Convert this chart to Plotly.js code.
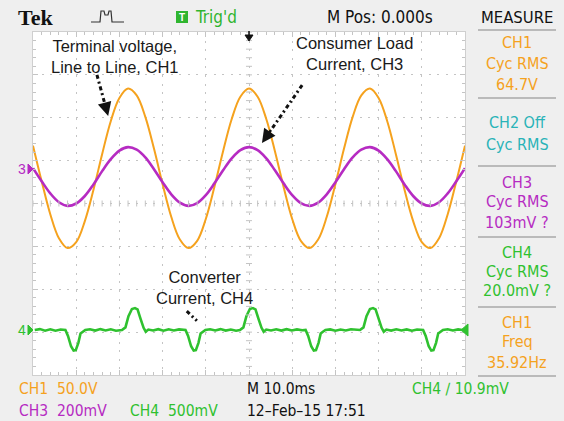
<!DOCTYPE html>
<html>
<head>
<meta charset="utf-8">
<script src="https://cdn.plot.ly/plotly-3.0.1.min.js"></script>
<style>html,body{margin:0;padding:0;background:#efefef;}#chart{width:564px;height:421px;}</style>
</head>
<body>
<div id="chart"></div>
<script>
// ---- data (time in ms, 10 ms/div, trigger at 0) ----
const timeMs = [-50,-48,-46,-44,-42,-40,-38,-36,-34,-32,-30,-28,-26,-24,-22,-20,-18,-16,-14,-12,-10,-8,-6,-4,-2,0,2,4,6,8,10,12,14,16,18,20,22,24,26,28,30,32,34,36,38,40,42,44,46,48,50];
const ch1Volts = [26.5,-15,-53.5,-81.5,-93,-86,-61.5,-25,16.5,55,82,93,85,60,23,-18.5,-56.5,-83,-93,-84.5,-59,-21.5,20,57.5,83.5,93,83.5,57.5,20,-21.5,-59,-84.5,-93,-83,-56.5,-18.5,23,60,85,93,82,55,16.5,-25,-61.5,-86,-93,-81.5,-53.5,-15,26.5];
const ch3mV = [1,-60,-117,-158,-175,-164,-129,-75,-13,43,83,99,87,51,-4,-65,-121,-160,-175,-162,-125,-70,-9,47,85,99,85,47,-9,-70,-125,-162,-175,-160,-121,-65,-4,51,87,99,83,43,-13,-75,-129,-164,-175,-158,-117,-60,1];
const ch4TimeMs = [-49.6,-48.4,-47.2,-46.0,-44.8,-43.6,-42.5,-41.9,-41.2,-40.6,-40.1,-39.5,-39.0,-38.5,-37.9,-36.8,-35.6,-34.4,-33.2,-32.0,-30.8,-29.4,-28.6,-27.9,-27.1,-26.4,-25.8,-25.1,-24.4,-23.9,-23.3,-22.2,-21.0,-19.8,-18.6,-17.4,-16.2,-14.7,-14.1,-13.4,-12.8,-12.3,-11.7,-11.2,-10.7,-10.1,-9.0,-7.8,-6.6,-5.4,-4.2,-3.0,-2.1,-1.3,-0.6,0.2,0.9,1.5,2.2,2.9,3.4,4.0,5.1,6.3,7.5,8.7,9.9,11.1,12.3,13.1,13.7,14.4,15.0,15.5,16.1,16.6,17.1,17.7,18.8,20.0,21.2,22.4,23.6,25.7,26.5,27.2,28.0,28.7,29.3,30.0,30.7,31.2,31.8,32.9,34.1,35.3,36.5,37.7,38.9,40.3,40.9,41.6,42.2,42.7,43.3,43.8,44.3,44.9,46.0,47.2,48.4,49.4];
const ch4mV = [0,10,-8,8,-9,6,0,-70,-190,-240,-235,-150,-40,-20,0,9,-7,10,-5,8,-8,0,30,160,245,255,240,130,25,-20,5,-6,9,-8,8,-5,7,0,-70,-190,-240,-235,-150,-40,-20,0,8,-6,10,-7,6,-8,0,30,160,245,255,240,130,25,-20,5,-5,8,-7,9,-6,7,-3,0,-70,-190,-240,-235,-150,-40,-20,0,7,-8,6,-6,9,0,30,160,245,255,240,130,25,-20,5,-7,8,-6,7,-8,6,0,-70,-190,-240,-235,-150,-40,-20,0,8,-6,7,0];
const measureLabels = ["CH1","Cyc RMS","64.7V","CH2 Off","Cyc RMS","CH3","Cyc RMS","103mV ?","CH4","Cyc RMS","20.0mV ?","CH1","Freq","35.92Hz"];

// ---- channel settings (scale per division and on-screen position in divisions) ----
const ch1PerDiv = 50, ch3PerDiv = 200, ch4PerDiv = 500;
const ch1Pos = 0.82, ch3Pos = 0.82, ch4Pos = -2.95;

const cOrange = '#f5a21e', cMag = '#b62bc2', cGreen = '#2fc12f', cCyan = '#29b3b8';
const narrow = '"Liberation Sans Narrow","DejaVu Sans Condensed","Roboto",sans-serif';
const sans = '"Liberation Sans",Arial,sans-serif';

const toDiv = (arr, per, pos) => arr.map(v => pos + v / per);

const traces = [
  {x: timeMs, y: toDiv(ch1Volts, ch1PerDiv, ch1Pos), mode: 'lines', line: {color: cOrange, width: 2, shape: 'spline'}, name: 'CH1'},
  {x: timeMs, y: toDiv(ch3mV, ch3PerDiv, ch3Pos), mode: 'lines', line: {color: cMag, width: 2.6, shape: 'spline'}, name: 'CH3'},
  {x: ch4TimeMs, y: toDiv(ch4mV, ch4PerDiv, ch4Pos), mode: 'lines', line: {color: cGreen, width: 2.6}, name: 'CH4'}
];

// ---- page geometry (pixels) ----
const L = 33, T = 32, W = 432, H = 343;
const px = x => (x - L) / W, py = y => (T + H - y) / H;
function txt(s, x, y, color, size, anchor, family, extra) {
  return Object.assign({text: s, xref: 'paper', yref: 'paper', x: px(x), y: py(y), showarrow: false,
    xanchor: anchor || 'center', yanchor: 'middle', font: {color: color, size: size, family: family || narrow}}, extra || {});
}

const annotations = [];
// header
annotations.push(txt('<b>Tek</b>', 16, 17, '#111', 22, 'left', '"Liberation Serif","DejaVu Serif",serif'));
annotations.push(txt('<b>T</b>', 182, 17, '#fff', 10, 'center', sans));
annotations.push(txt("Trig'd", 193, 17, '#2fb52f', 17, 'left'));
annotations.push(txt('M Pos: 0.000s', 380, 17, '#111', 17, 'center'));
annotations.push(txt('MEASURE', 517, 17, '#111', 16.5, 'center'));
// measure panel
const measY = [43,63,84,123,144,182,201,222,252,271,290,322,341,362];
const measC = [cOrange,cOrange,cOrange,cCyan,cCyan,cMag,cMag,cMag,cGreen,cGreen,cGreen,cOrange,cOrange,cOrange];
measureLabels.forEach((s, i) => annotations.push(txt(s, 517, measY[i], measC[i], 16, 'center')));
// footer
annotations.push(txt('CH1  50.0V', 17, 389, cOrange, 15.5, 'left'));
annotations.push(txt('M 10.0ms', 245, 389, '#111', 15.5, 'left'));
annotations.push(txt('CH4 \u2215 10.9mV', 410, 389, cGreen, 15.5, 'left'));
annotations.push(txt('CH3  200mV', 17, 411, cMag, 15.5, 'left'));
annotations.push(txt('CH4  500mV', 128, 411, cGreen, 15.5, 'left'));
annotations.push(txt('12\u2013Feb\u201315 17:51', 245, 411, '#111', 15.5, 'left'));
// channel markers
annotations.push(txt('3', 22, 169, cMag, 14, 'center', sans));
annotations.push(txt('4', 22, 330, cGreen, 14, 'center', sans));
// callouts (in data coordinates)
function note(s, x, y) {
  return {text: s, x: x, y: y, xref: 'x', yref: 'y', showarrow: false, align: 'center',
    font: {family: sans, size: 16.5, color: '#1a1a1a'}};
}
annotations.push(note('Terminal voltage,<br>Line to Line, CH1', -31.0, 3.44));
annotations.push(note('Consumer Load<br>Current, CH3', 24.5, 3.49));
annotations.push(note('Converter<br>Current, CH4', -10.2, -1.95));
const arrows = [[-35.2, 3.0, -32.6, 2.04], [12.3, 2.76, 3.0, 1.41], [-14.4, -2.51, -11.3, -2.81]];
const shapes = [];
arrows.forEach(a => {
  const f = 0.75;
  const mx = a[0] + (a[2] - a[0]) * f, my = a[1] + (a[3] - a[1]) * f;
  shapes.push({type: 'line', xref: 'x', yref: 'y', x0: a[0], y0: a[1], x1: mx, y1: my,
    line: {color: '#111', width: 3, dash: '4px,3px,2px,3px'}});
  annotations.push({x: a[2], y: a[3], xref: 'x', yref: 'y', ax: mx, ay: my, axref: 'x', ayref: 'y',
    showarrow: true, arrowhead: 2, arrowsize: 1.1, arrowwidth: 2.5, arrowcolor: '#111', text: ''});
});

// graticule centre-line ticks
for (let t = -50; t <= 50; t += 2) {
  shapes.push({type: 'line', xref: 'x', yref: 'y', x0: t, x1: t, y0: -0.07, y1: 0.07, line: {color: '#c4c4c4', width: 1}});
}
for (let v = -4; v <= 4.001; v += 0.2) {
  shapes.push({type: 'line', xref: 'x', yref: 'y', x0: -0.7, x1: 0.7, y0: v, y1: v, line: {color: '#c4c4c4', width: 1}});
}
// header decorations
shapes.push({type: 'rect', xref: 'paper', yref: 'paper', x0: px(176), x1: px(188), y0: py(23), y1: py(11), fillcolor: '#2fb52f', line: {width: 0}});
shapes.push({type: 'path', xref: 'paper', yref: 'paper',
  path: `M${px(91)},${py(22)} L${px(100)},${py(22)} L${px(101)},${py(11)} L${px(104)},${py(11)} L${px(105)},${py(15)} L${px(108)},${py(15)} L${px(109)},${py(11)} L${px(111)},${py(11)} L${px(112)},${py(22)} L${px(124)},${py(22)}`,
  line: {color: '#333', width: 1.2}});
// trigger position arrow
shapes.push({type: 'path', xref: 'paper', yref: 'paper',
  path: `M${px(249)},${py(31)} L${px(249)},${py(39)}`, line: {color: '#111', width: 1.5}});
shapes.push({type: 'path', xref: 'paper', yref: 'paper',
  path: `M${px(245)},${py(35)} L${px(253)},${py(35)} L${px(249)},${py(41)} Z`, fillcolor: '#111', line: {color: '#111', width: 1}});
// channel ground markers
shapes.push({type: 'path', xref: 'paper', yref: 'paper',
  path: `M${px(28)},${py(164)} L${px(33)},${py(169)} L${px(28)},${py(174)} Z`, fillcolor: cMag, line: {color: cMag, width: 1}});
shapes.push({type: 'path', xref: 'paper', yref: 'paper',
  path: `M${px(28)},${py(325)} L${px(33)},${py(330)} L${px(28)},${py(335)} Z`, fillcolor: cGreen, line: {color: cGreen, width: 1}});
shapes.push({type: 'path', xref: 'paper', yref: 'paper',
  path: `M${px(468)},${py(324)} L${px(461)},${py(330)} L${px(468)},${py(336)} Z`, fillcolor: cGreen, line: {color: cGreen, width: 1}});
// measure panel separators
[30, 98, 166, 237, 307, 376].forEach(y => shapes.push({type: 'line', xref: 'paper', yref: 'paper',
  x0: px(478), x1: px(556), y0: py(y), y1: py(y), line: {color: '#a8a8a8', width: 1.5}}));

const axisCommon = {showticklabels: false, showgrid: true, gridcolor: '#c4c4c4', griddash: '2px,6.6px', gridwidth: 1,
  zeroline: false, showline: true, linecolor: '#cfcfcf', linewidth: 1, mirror: 'allticks', ticks: 'inside',
  ticklen: 5, tickcolor: '#c4c4c4', fixedrange: true};

const layout = {
  width: 564, height: 421,
  margin: {l: L, r: 564 - L - W, t: T, b: 421 - T - H, pad: 0},
  paper_bgcolor: '#efefef', plot_bgcolor: '#ffffff',
  showlegend: false,
  xaxis: Object.assign({}, axisCommon, {range: [-50, 50], dtick: 10, minor: {dtick: 2, ticks: 'inside', ticklen: 3, tickcolor: '#c4c4c4', showgrid: false}}),
  yaxis: Object.assign({}, axisCommon, {range: [-4, 4], dtick: 1, minor: {dtick: 0.2, ticks: 'inside', ticklen: 3, tickcolor: '#c4c4c4', showgrid: false}}),
  annotations: annotations,
  shapes: shapes
};

Plotly.newPlot('chart', traces, layout, {staticPlot: true, displayModeBar: false});
</script>
</body>
</html>
